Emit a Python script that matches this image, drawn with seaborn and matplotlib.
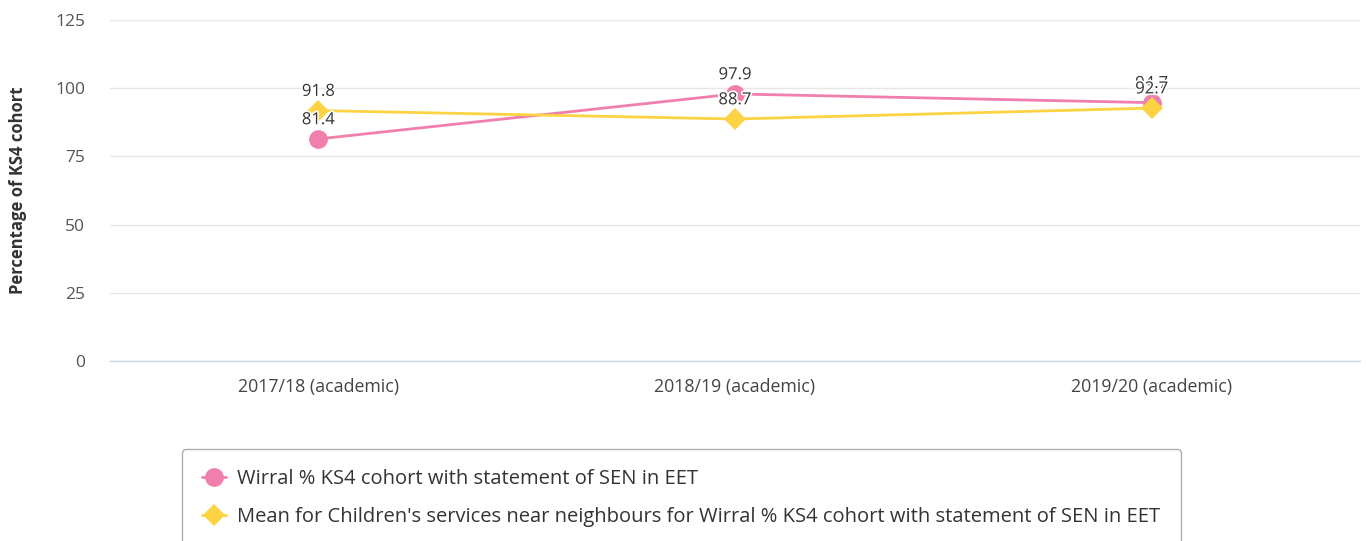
import matplotlib
matplotlib.use("Agg")
import matplotlib.pyplot as plt
import matplotlib.patheffects as pe
import pandas as pd
import seaborn as sns

# Данные графика
years = ['2017/18 (academic)', '2018/19 (academic)', '2019/20 (academic)']
wirral_label = 'Wirral % KS4 cohort with statement of SEN in EET'
mean_label = ("Mean for Children's services near neighbours for Wirral % KS4 cohort "
              "with statement of SEN in EET")
wirral_values = [81.4, 97.9, 94.7]
mean_values = [91.8, 88.7, 92.7]
y_ticks = [0, 25, 50, 75, 100, 125]

pink = '#f07fad'
yellow = '#fdd344'

df = pd.DataFrame({
    'year': years * 2,
    'value': wirral_values + mean_values,
    'series': [wirral_label] * 3 + [mean_label] * 3,
})

sns.set_style("white")
plt.rcParams['font.family'] = ['Open Sans', 'DejaVu Sans']

fig = plt.figure(figsize=(13.66, 5.41), dpi=100)
ax = fig.add_axes([110 / 1366, 1 - 361 / 541, 1250 / 1366, 341 / 541])

sns.lineplot(
    data=df, x='year', y='value', hue='series', style='series',
    palette={wirral_label: pink, mean_label: yellow},
    markers={wirral_label: 'o', mean_label: 'D'},
    dashes=False, linewidth=2, markersize=13.5, markeredgewidth=0,
    legend=False, ax=ax
)
# ромбы чуть меньше кругов
for line in ax.lines:
    if line.get_marker() == 'D':
        line.set_markersize(11.5)

# Подписи значений
halo = [pe.withStroke(linewidth=2.5, foreground='white')]
for vals in (wirral_values, mean_values):
    for i, v in enumerate(vals):
        ax.annotate(f"{v:.1f}", (i, v), xytext=(0, 13.5), textcoords='offset points',
                    ha='center', va='center', fontsize=12, color='#333333',
                    path_effects=halo)

ax.set_xlim(-0.5, 2.5)
ax.set_ylim(0, 125)
ax.set_yticks(y_ticks)
ax.set_yticklabels([str(t) for t in y_ticks], fontsize=12.5, color='#555555')
ax.set_xticks(range(len(years)))
ax.set_xticklabels(years, fontsize=12.8, color='#444444')
ax.tick_params(axis='y', length=0, pad=18)
ax.tick_params(axis='x', length=0, pad=12)

ax.grid(axis='y', color='#e6e6e6', linewidth=1)
ax.set_axisbelow(True)
for side in ['top', 'right', 'left']:
    ax.spines[side].set_visible(False)
ax.spines['bottom'].set_color('#ccd6eb')
ax.spines['bottom'].set_linewidth(1)

ax.set_xlabel('')
ax.set_ylabel('Percentage of KS4 cohort', fontsize=12, fontweight='bold',
              color='#333333', labelpad=20)

# Легенда
handles = [
    plt.Line2D([], [], color=pink, marker='o', markersize=13.5, linewidth=2, markeredgewidth=0),
    plt.Line2D([], [], color=yellow, marker='D', markersize=11.5, linewidth=2, markeredgewidth=0),
]
leg = fig.legend(handles, [wirral_label, mean_label], loc='upper left',
                 bbox_to_anchor=(182 / 1366, 1 - 449 / 541), fontsize=14.5,
                 frameon=True, fancybox=True, handlelength=1.2, handletextpad=0.55,
                 labelspacing=0.88, borderpad=1.0, borderaxespad=0)
leg.get_frame().set_edgecolor('#999999')
leg.get_frame().set_linewidth(1)
for t in leg.get_texts():
    t.set_color('#333333')

fig.savefig('out.png', dpi=100)
